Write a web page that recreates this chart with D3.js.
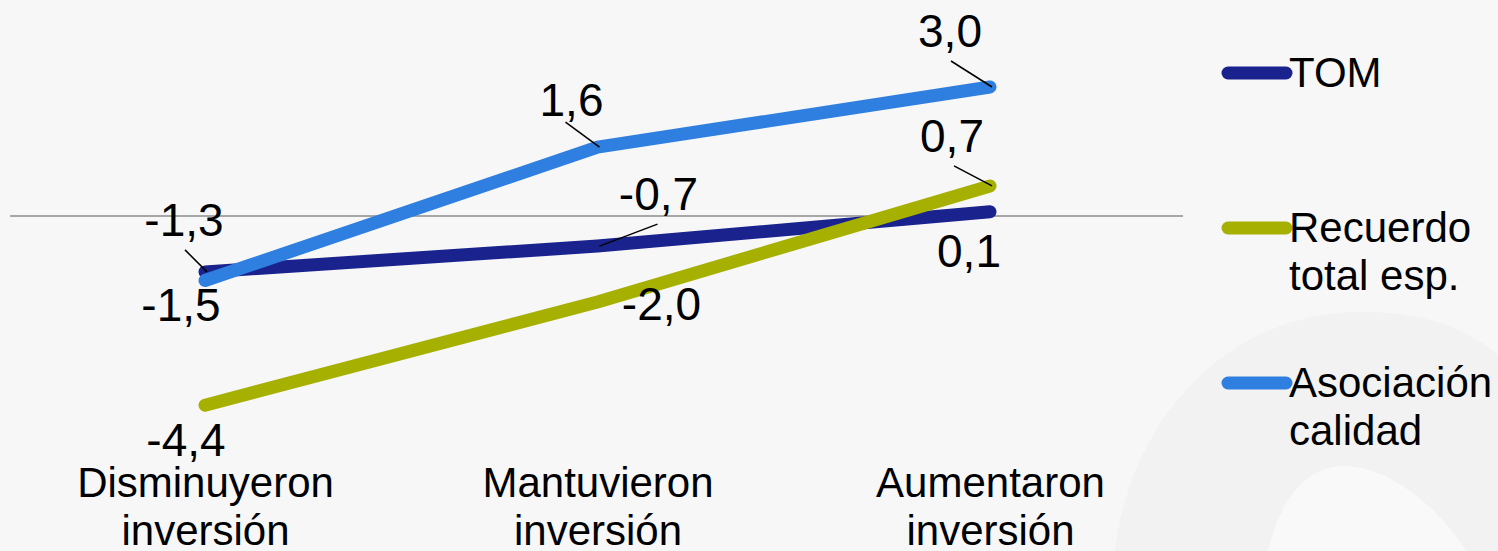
<!DOCTYPE html>
<html>
<head>
<meta charset="utf-8">
<script src="https://cdn.jsdelivr.net/npm/d3@7"></script>
<style>
  html, body { margin: 0; padding: 0; background: #f7f7f7; }
  svg { display: block; font-family: Arial, "Liberation Sans", sans-serif; }
  .val { font-size: 46px; fill: #000; text-anchor: middle; }
  .cat { font-size: 42px; fill: #000; text-anchor: middle; }
  .leg { font-size: 42px; fill: #000; }
</style>
</head>
<body>
<svg id="chart" width="1498" height="551"></svg>
<script>
// categories (two lines each)
var categories = ["Disminuyeron inversión", "Mantuvieron inversión", "Aumentaron inversión"];
var seriesNames = ["TOM", "Recuerdo total esp.", "Asociación calidad"];
var tomValues = [-1.3, -0.7, 0.1];
var recuerdoValues = [-4.4, -2.0, 0.7];
var asociacionValues = [-1.5, 1.6, 3.0];

var colors = ["#1a228e", "#a6b000", "#2e7fe0"];
var legendLines = [["TOM"], ["Recuerdo", "total esp."], ["Asociación", "calidad"]];

// label placement relative to point: text dx,dy ; optional leader start lx,ly
var labelPos = [
  [{dx: -21, dy: -36, lx: -20, ly: -22}, {dx: 61, dy: -36, lx: 60, ly: -22}, {dx: -21, dy: 55}],
  [{dx: -19, dy: 51}, {dx: 64, dy: 18}, {dx: -38, dy: -34, lx: -36, ly: -20}],
  [{dx: -24, dy: 40}, {dx: -26, dy: -31, lx: -32, ly: -25}, {dx: -40, dy: -40, lx: -39, ly: -26}]
];

var series = [tomValues, recuerdoValues, asociacionValues].map(function(v, i) {
  return {name: seriesNames[i], values: v, color: colors[i], idx: i};
});

var svg = d3.select("#chart");
var fmt = function(v) { return d3.format(".1f")(v).replace(".", ",").replace("−", "-"); };

// faint background shapes
svg.append("path")
  .attr("d", "M1115,551 C1130,420 1225,318 1350,312 C1420,309 1470,330 1498,355 L1498,551 Z")
  .attr("fill", "#f2f2f2");
svg.append("path")
  .attr("d", "M1268,551 C1280,500 1305,468 1340,466 C1390,464 1440,510 1466,551 Z")
  .attr("fill", "#f9f9f9");

var x = d3.scalePoint().domain(categories).range([205, 990]);
var y = d3.scaleLinear().domain([-5, 4]).range([431, 44]);

// zero line
svg.append("line")
  .attr("x1", 10).attr("x2", 1183)
  .attr("y1", y(0)).attr("y2", y(0))
  .attr("stroke", "#8c8c8c").attr("stroke-width", 1.5);

// category axis
var axis = svg.append("g")
  .attr("transform", "translate(0,497)")
  .call(d3.axisBottom(x).tickSize(0).tickPadding(0));
axis.select(".domain").remove();
axis.selectAll("text").remove();
axis.selectAll(".tick").each(function(d) {
  var words = d.split(" ");
  var t = d3.select(this).append("text").attr("class", "cat");
  words.forEach(function(w, i) {
    t.append("tspan").attr("x", 0).attr("y", i * 48).text(w);
  });
});

var line = d3.line()
  .x(function(d, i) { return x(categories[i]); })
  .y(function(d) { return y(d); });

svg.selectAll("path.series")
  .data(series)
  .enter().append("path")
  .attr("class", "series")
  .attr("d", function(d) { return line(d.values); })
  .attr("fill", "none")
  .attr("stroke", function(d) { return d.color; })
  .attr("stroke-width", 13)
  .attr("stroke-linecap", "round")
  .attr("stroke-linejoin", "round");

// value labels + leader lines
series.forEach(function(s) {
  s.values.forEach(function(v, i) {
    var px = x(categories[i]), py = y(v), p = labelPos[s.idx][i];
    if (p.lx !== undefined) {
      svg.append("line")
        .attr("x1", px + p.lx).attr("y1", py + p.ly)
        .attr("x2", px + 2).attr("y2", py)
        .attr("stroke", "#000").attr("stroke-width", 1.5);
    }
    svg.append("text").attr("class", "val")
      .attr("x", px + p.dx).attr("y", py + p.dy)
      .text(fmt(v));
  });
});

// legend
var leg = svg.selectAll("g.legend")
  .data(series)
  .enter().append("g")
  .attr("class", "legend")
  .attr("transform", function(d, i) { return "translate(1228," + (73 + i * 155) + ")"; });
leg.append("line")
  .attr("x1", 0).attr("x2", 58)
  .attr("stroke", function(d) { return d.color; })
  .attr("stroke-width", 13)
  .attr("stroke-linecap", "round");
leg.append("text").attr("class", "leg")
  .each(function(d) {
    var t = d3.select(this);
    legendLines[d.idx].forEach(function(w, i) {
      t.append("tspan").attr("x", 61).attr("y", 14 + i * 48).text(w);
    });
  });
</script>
</body>
</html>
